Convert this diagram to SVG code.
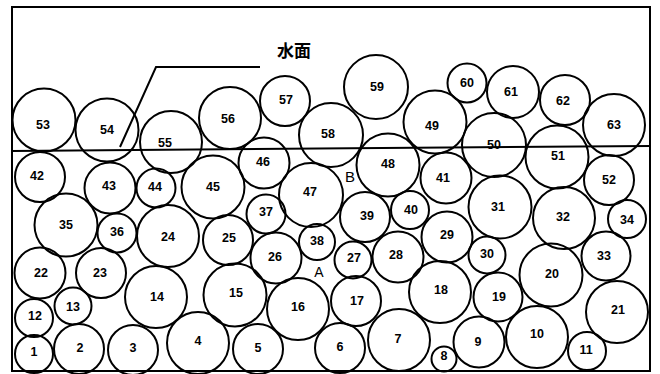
<svg xmlns="http://www.w3.org/2000/svg" width="660" height="374" viewBox="0 0 660 374">
<style>
.b{fill:none;stroke:#000;stroke-width:2}
.t{font-family:"Liberation Sans",Arial,sans-serif;font-size:12.5px;font-weight:bold;fill:#000;text-anchor:middle;dominant-baseline:central}
.p{font-family:"Liberation Sans",Arial,sans-serif;font-size:15px;fill:#000;text-anchor:middle;dominant-baseline:central}
.l{fill:none;stroke:#000;stroke-width:2}
.cap{font-family:"Noto Sans CJK JP","Noto Sans CJK SC",sans-serif;font-size:17px;font-weight:bold;fill:#000}
</style>
<rect x="0" y="0" width="660" height="374" fill="#fff"/>
<g id="frame"><rect x="12" y="7" width="638" height="364" class="l"/></g>
<g id="c53"><circle class="b" cx="44" cy="120" r="31.5"/><text class="t" x="43" y="125">53</text></g>
<g id="c54"><circle class="b" cx="107" cy="130" r="31.5"/><text class="t" x="107" y="130">54</text></g>
<g id="c56"><circle class="b" cx="230" cy="118" r="31"/><text class="t" x="228" y="119">56</text></g>
<g id="c57"><circle class="b" cx="285" cy="101" r="25"/><text class="t" x="286" y="100">57</text></g>
<g id="c59"><circle class="b" cx="376" cy="87" r="32"/><text class="t" x="377" y="87">59</text></g>
<g id="c60"><circle class="b" cx="467" cy="83" r="19.5"/><text class="t" x="467" y="83">60</text></g>
<g id="c61"><circle class="b" cx="513" cy="92" r="26"/><text class="t" x="511" y="92">61</text></g>
<g id="c62"><circle class="b" cx="565" cy="100" r="25"/><text class="t" x="563" y="101">62</text></g>
<g id="c49"><circle class="b" cx="435" cy="122" r="31.5"/><text class="t" x="432" y="126">49</text></g>
<g id="c63"><circle class="b" cx="614" cy="125" r="31"/><text class="t" x="614" y="125">63</text></g>
<g id="c58"><circle class="b" cx="331" cy="135" r="32"/><text class="t" x="328" y="134">58</text></g>
<g id="c55"><circle class="b" cx="171" cy="142" r="31"/><text class="t" x="165" y="143">55</text></g>
<g id="c50"><circle class="b" cx="494" cy="145" r="32"/><text class="t" x="494" y="145">50</text></g>
<g id="c51"><circle class="b" cx="557" cy="157" r="31.5"/><text class="t" x="558" y="156">51</text></g>
<g id="c48"><circle class="b" cx="388" cy="165" r="31.5"/><text class="t" x="388" y="164">48</text></g>
<g id="c46"><circle class="b" cx="264" cy="163" r="25.5"/><text class="t" x="263" y="162">46</text></g>
<g id="c42"><circle class="b" cx="40" cy="177" r="25"/><text class="t" x="37" y="176">42</text></g>
<g id="c43"><circle class="b" cx="110" cy="188" r="25.5"/><text class="t" x="109" y="186">43</text></g>
<g id="c44"><circle class="b" cx="156" cy="188" r="19.5"/><text class="t" x="155" y="187">44</text></g>
<g id="c45"><circle class="b" cx="213" cy="187" r="31.5"/><text class="t" x="213" y="187">45</text></g>
<g id="c47"><circle class="b" cx="311" cy="195" r="32"/><text class="t" x="310" y="192">47</text></g>
<g id="c41"><circle class="b" cx="446" cy="178" r="25.5"/><text class="t" x="443" y="178">41</text></g>
<g id="c52"><circle class="b" cx="609" cy="180" r="25"/><text class="t" x="609" y="180">52</text></g>
<g id="c37"><circle class="b" cx="266" cy="214" r="19.5"/><text class="t" x="266" y="212">37</text></g>
<g id="c39"><circle class="b" cx="365" cy="217" r="25"/><text class="t" x="367" y="216">39</text></g>
<g id="c40"><circle class="b" cx="410" cy="210" r="19"/><text class="t" x="411" y="210">40</text></g>
<g id="c31"><circle class="b" cx="500" cy="207" r="31.5"/><text class="t" x="498" y="207">31</text></g>
<g id="c32"><circle class="b" cx="564" cy="218" r="31"/><text class="t" x="563" y="217">32</text></g>
<g id="c34"><circle class="b" cx="627" cy="219" r="19"/><text class="t" x="627" y="220">34</text></g>
<g id="c35"><circle class="b" cx="66" cy="225" r="31.5"/><text class="t" x="66" y="225">35</text></g>
<g id="c36"><circle class="b" cx="117" cy="233" r="19.5"/><text class="t" x="117" y="232">36</text></g>
<g id="c24"><circle class="b" cx="168" cy="236" r="31"/><text class="t" x="168" y="237">24</text></g>
<g id="c25"><circle class="b" cx="228" cy="240" r="25"/><text class="t" x="229" y="238">25</text></g>
<g id="c26"><circle class="b" cx="276" cy="258" r="25.5"/><text class="t" x="275" y="257">26</text></g>
<g id="c38"><circle class="b" cx="317" cy="242" r="18"/><text class="t" x="317" y="241">38</text></g>
<g id="c27"><circle class="b" cx="353" cy="260" r="18.5"/><text class="t" x="354" y="258">27</text></g>
<g id="c28"><circle class="b" cx="398" cy="257" r="25.5"/><text class="t" x="396" y="255">28</text></g>
<g id="c29"><circle class="b" cx="447" cy="237" r="25.5"/><text class="t" x="447" y="235">29</text></g>
<g id="c30"><circle class="b" cx="487" cy="255" r="18.5"/><text class="t" x="487" y="254">30</text></g>
<g id="c20"><circle class="b" cx="551" cy="275" r="31.5"/><text class="t" x="552" y="274">20</text></g>
<g id="c33"><circle class="b" cx="606" cy="256" r="24.5"/><text class="t" x="604" y="256">33</text></g>
<g id="c22"><circle class="b" cx="40" cy="273" r="25.5"/><text class="t" x="41" y="273">22</text></g>
<g id="c23"><circle class="b" cx="101" cy="273" r="25"/><text class="t" x="100" y="273">23</text></g>
<g id="c14"><circle class="b" cx="156" cy="297" r="31"/><text class="t" x="157" y="297">14</text></g>
<g id="c15"><circle class="b" cx="235" cy="295" r="31.5"/><text class="t" x="236" y="293">15</text></g>
<g id="c16"><circle class="b" cx="298" cy="309" r="31"/><text class="t" x="298" y="307">16</text></g>
<g id="c17"><circle class="b" cx="356" cy="301" r="25"/><text class="t" x="357" y="301">17</text></g>
<g id="c18"><circle class="b" cx="440" cy="292" r="31"/><text class="t" x="441" y="290">18</text></g>
<g id="c19"><circle class="b" cx="498" cy="297" r="24.5"/><text class="t" x="499" y="297">19</text></g>
<g id="c21"><circle class="b" cx="617" cy="312" r="31"/><text class="t" x="618" y="310">21</text></g>
<g id="c12"><circle class="b" cx="34" cy="318" r="19"/><text class="t" x="35" y="316">12</text></g>
<g id="c13"><circle class="b" cx="73" cy="306" r="18.5"/><text class="t" x="73" y="307">13</text></g>
<g id="c1"><circle class="b" cx="34" cy="354" r="19"/><text class="t" x="34" y="352">1</text></g>
<g id="c2"><circle class="b" cx="79" cy="349" r="25"/><text class="t" x="80" y="348">2</text></g>
<g id="c3"><circle class="b" cx="133" cy="350" r="25"/><text class="t" x="133" y="348">3</text></g>
<g id="c4"><circle class="b" cx="198" cy="343" r="31"/><text class="t" x="198" y="341">4</text></g>
<g id="c5"><circle class="b" cx="258" cy="349" r="25"/><text class="t" x="258" y="348">5</text></g>
<g id="c6"><circle class="b" cx="340" cy="348" r="25"/><text class="t" x="340" y="347">6</text></g>
<g id="c7"><circle class="b" cx="399" cy="340" r="31"/><text class="t" x="398" y="339">7</text></g>
<g id="c8"><circle class="b" cx="444" cy="359" r="12.5"/><text class="t" x="444" y="356">8</text></g>
<g id="c9"><circle class="b" cx="479" cy="342" r="25.5"/><text class="t" x="478" y="342">9</text></g>
<g id="c10"><circle class="b" cx="537" cy="337" r="31"/><text class="t" x="537" y="334">10</text></g>
<g id="c11"><circle class="b" cx="587" cy="351" r="19"/><text class="t" x="586" y="350">11</text></g>
<g id="labels">
<text class="p" x="350" y="176">B</text>
<text class="p" x="319" y="272" style="font-size:14px">A</text>
<text class="cap" x="277" y="57">水面</text>
</g>
<g id="connectors">
<line class="l" x1="12" y1="151" x2="650" y2="146"/>
<polyline class="l" points="260,67 156,67 120,147"/>
</g>
</svg>
